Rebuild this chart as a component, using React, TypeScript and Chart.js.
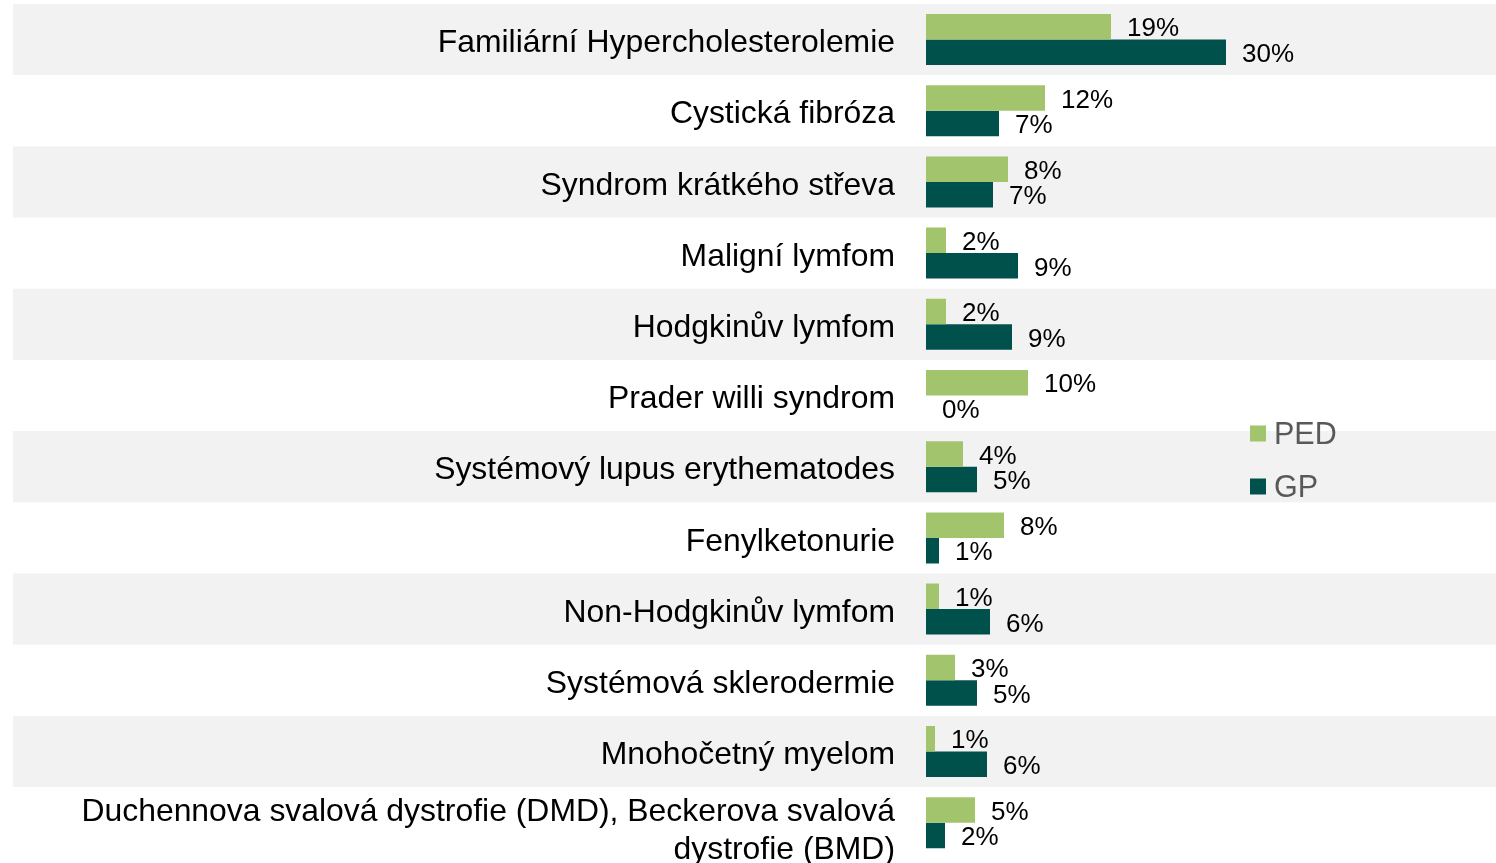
import React, { useEffect, useRef } from "react";
import { Chart, registerables } from "chart.js";

Chart.register(...registerables);

const categories: (string | string[])[] = [
  "Familiární Hypercholesterolemie",
  "Cystická fibróza",
  "Syndrom krátkého střeva",
  "Maligní lymfom",
  "Hodgkinův lymfom",
  "Prader willi syndrom",
  "Systémový lupus erythematodes",
  "Fenylketonurie",
  "Non-Hodgkinův lymfom",
  "Systémová sklerodermie",
  "Mnohočetný myelom",
  ["Duchennova svalová dystrofie (DMD), Beckerova svalová", "dystrofie (BMD)"],
];

const pedValues = [18.5, 11.9, 8.2, 2.0, 2.0, 10.2, 3.7, 7.8, 1.3, 2.9, 0.9, 4.9];
const gpValues = [30.0, 7.3, 6.7, 9.2, 8.6, 0, 5.1, 1.3, 6.4, 5.1, 6.1, 1.9];

const seriesNames = ["PED", "GP"];
const seriesColors = ["#A2C46C", "#00504C"];

const FONT = "'Liberation Sans', Arial, sans-serif";

const bandsPlugin = {
  id: "bands",
  beforeDraw(chart: any) {
    const { ctx, scales } = chart;
    const y = scales.y;
    const step = Math.abs(y.getPixelForValue(1) - y.getPixelForValue(0));
    ctx.save();
    ctx.fillStyle = "#F2F2F2";
    for (let i = 0; i < categories.length; i += 2) {
      const c = y.getPixelForValue(i);
      ctx.fillRect(13, c - step / 2, chart.width - 13, step);
    }
    ctx.restore();
  },
};

const categoryLabelsPlugin = {
  id: "categoryLabels",
  afterDraw(chart: any) {
    const { ctx, scales, chartArea } = chart;
    const y = scales.y;
    ctx.save();
    ctx.font = `31.9px ${FONT}`;
    ctx.fillStyle = "#000000";
    ctx.textAlign = "right";
    ctx.textBaseline = "middle";
    const xRight = chartArea.left - 31;
    const lineH = 38;
    (chart.data.labels as (string | string[])[]).forEach((lab, i) => {
      const c = y.getPixelForValue(i);
      const lines = Array.isArray(lab) ? lab : [lab];
      if (lines.length === 1) {
        ctx.fillText(lines[0], xRight, c + 4);
      } else {
        const start = c + 9 - ((lines.length - 1) * lineH) / 2;
        lines.forEach((ln, k) => ctx.fillText(ln, xRight, start + k * lineH));
      }
    });
    ctx.restore();
  },
};

const valueLabelsPlugin = {
  id: "valueLabels",
  afterDatasetsDraw(chart: any) {
    const { ctx } = chart;
    ctx.save();
    ctx.font = `26px ${FONT}`;
    ctx.fillStyle = "#000000";
    ctx.textAlign = "left";
    ctx.textBaseline = "middle";
    chart.data.datasets.forEach((ds: any, di: number) => {
      const meta = chart.getDatasetMeta(di);
      meta.data.forEach((el: any, i: number) => {
        const v = ds.data[i] as number;
        ctx.fillText(`${Math.round(v)}%`, el.x + 16, el.y + 2.5);
      });
    });
    ctx.restore();
  },
};

const legendPlugin = {
  id: "customLegend",
  afterDraw(chart: any) {
    const { ctx } = chart;
    ctx.save();
    ctx.font = `30.5px ${FONT}`;
    ctx.textAlign = "left";
    ctx.textBaseline = "middle";
    const ys = [433.5, 486.5];
    chart.data.datasets.forEach((ds: any, i: number) => {
      ctx.fillStyle = ds.backgroundColor;
      ctx.fillRect(1250, ys[i] - 8, 16, 16);
      ctx.fillStyle = "#595959";
      ctx.fillText(ds.label, 1274, ys[i] + 2);
    });
    ctx.restore();
  },
};

export default function App() {
  const ref = useRef<HTMLCanvasElement | null>(null);
  useEffect(() => {
    if (!ref.current) return;
    const chart = new Chart(ref.current, {
      type: "bar",
      data: {
        labels: categories as any,
        datasets: [
          {
            label: seriesNames[0],
            data: pedValues,
            backgroundColor: seriesColors[0],
            categoryPercentage: 0.716,
            barPercentage: 1,
          },
          {
            label: seriesNames[1],
            data: gpValues,
            backgroundColor: seriesColors[1],
            categoryPercentage: 0.716,
            barPercentage: 1,
          },
        ],
      },
      options: {
        indexAxis: "y",
        responsive: false,
        animation: false,
        devicePixelRatio: 1,
        layout: { padding: { top: 3.9, bottom: 4.7, left: 0, right: 250 } },
        plugins: {
          legend: { display: false },
          tooltip: { enabled: false },
        },
        scales: {
          x: {
            display: false,
            min: 0,
            max: 32,
          },
          y: {
            grid: { display: false, drawTicks: false },
            border: { display: false },
            ticks: { display: false, autoSkip: false },
            afterFit(scale: any) {
              scale.width = 926;
              scale.paddingTop = 0;
              scale.paddingBottom = 0;
            },
          },
        },
      },
      plugins: [bandsPlugin, valueLabelsPlugin, categoryLabelsPlugin, legendPlugin],
    });
    return () => chart.destroy();
  }, []);
  return (
    <div style={{ position: "fixed", left: 0, top: 0, width: 1496, height: 863, background: "#fff" }}>
      <canvas ref={ref} width={1496} height={863} style={{ display: "block" }} />
    </div>
  );
}
